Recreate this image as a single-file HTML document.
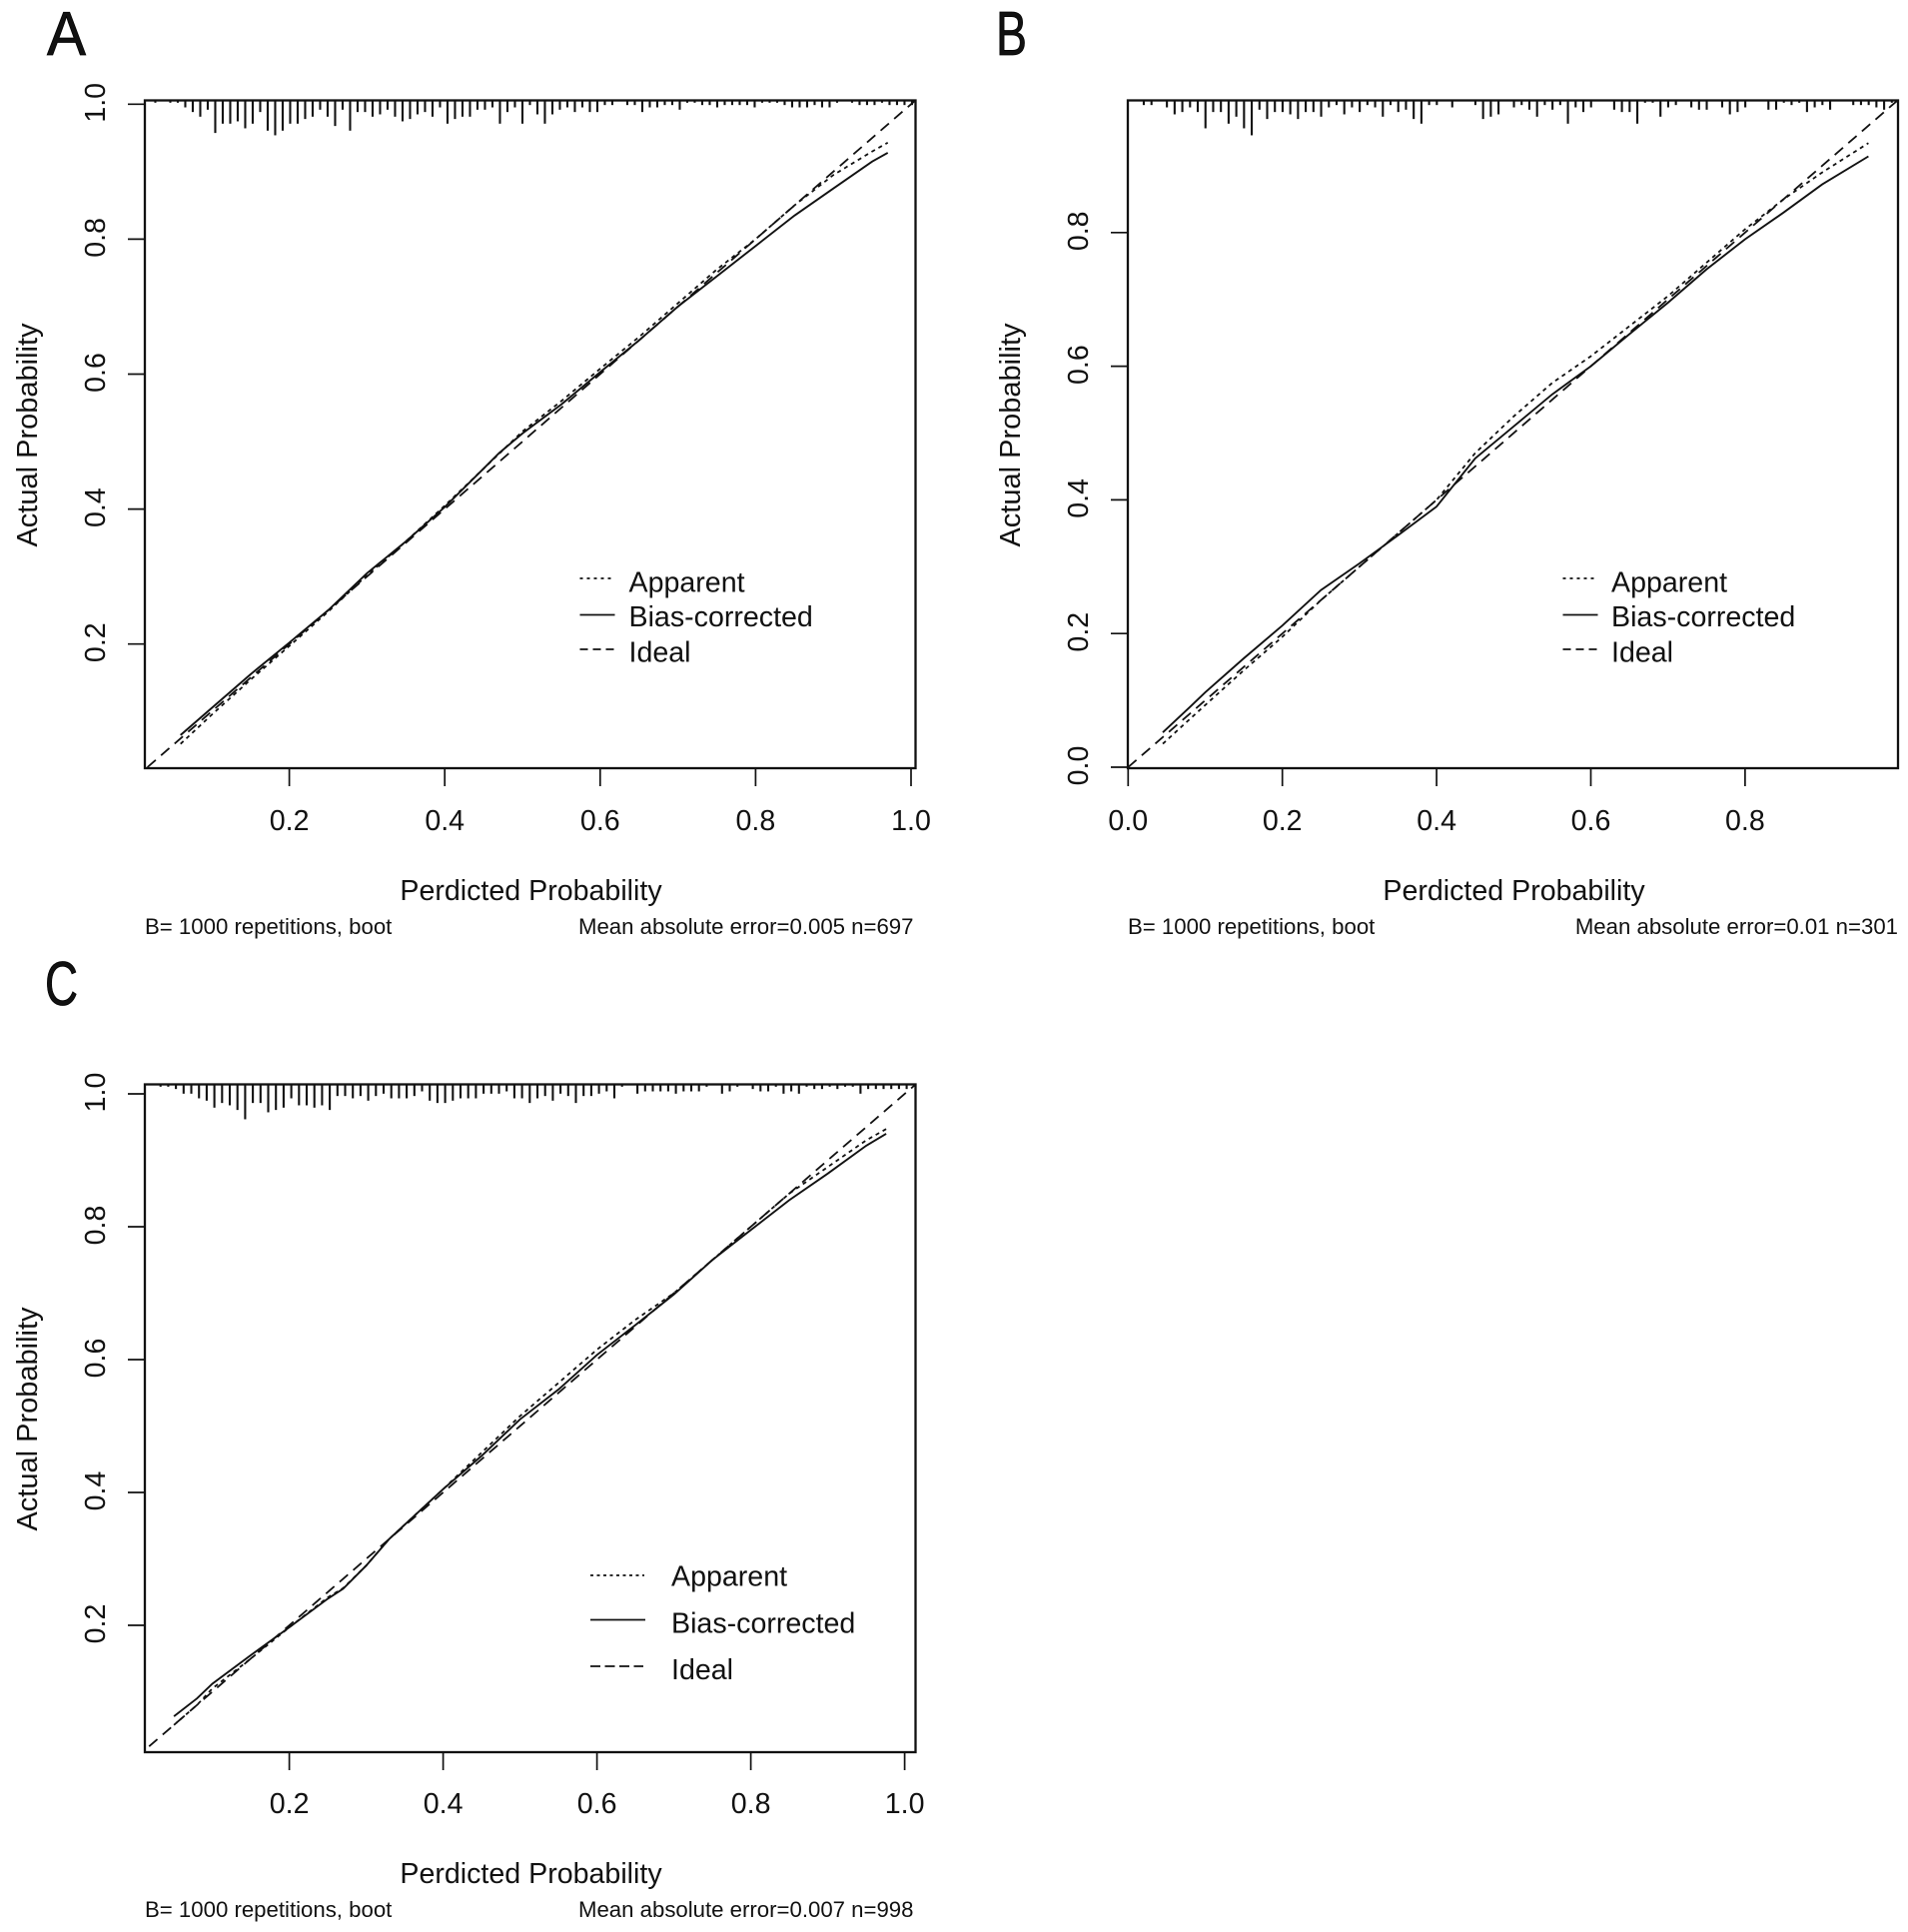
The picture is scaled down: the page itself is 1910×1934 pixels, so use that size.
<!DOCTYPE html>
<html lang="en">
<head>
<meta charset="utf-8">
<title>Calibration curves A, B and C</title>
<style>
html,body{margin:0;padding:0;background:#fff;}
svg{display:block;}
text{font-family:"Liberation Sans",sans-serif;fill:#111;}
.t28{font-size:28.6px;}
.ty{font-size:29px;}
.t22{font-size:22.2px;}
.letter{font-size:62px;stroke:#000;stroke-width:0.8px;}
.lg{stroke:#111;stroke-width:1.8;fill:none;}
</style>
</head>
<body>
<svg id="root" xmlns="http://www.w3.org/2000/svg" width="1910" height="1934" viewBox="0 0 1910 1934">
  <rect x="0" y="0" width="1910" height="1934" fill="#fff"/>

  <text class="letter" x="47" y="55" textLength="39" lengthAdjust="spacingAndGlyphs">A</text>
  <text class="letter" x="997" y="55" textLength="31" lengthAdjust="spacingAndGlyphs">B</text>
  <text class="letter" x="45" y="1006" textLength="33" lengthAdjust="spacingAndGlyphs">C</text>

  <g id="panel-a">
    <text class="t28" x="531.5" y="901" text-anchor="middle">Perdicted Probability</text>
    <text class="ty" transform="translate(37,435.5) rotate(-90)" text-anchor="middle">Actual Probability</text>
    <text class="t22" x="145" y="935">B= 1000 repetitions, boot</text>
    <text class="t22" x="914.5" y="935" text-anchor="end">Mean absolute error=0.005 n=697</text>
    <g>
      <line class="lg" x1="580.5" x2="613.5" y1="579" y2="579" stroke-dasharray="3 4"/>
      <line class="lg" x1="580.5" x2="615.5" y1="615.5" y2="615.5"/>
      <line class="lg" x1="580.5" x2="615.5" y1="650" y2="650" stroke-dasharray="8 5"/>
      <text class="t28" x="629.5" y="592.5">Apparent</text>
      <text class="t28" x="629.5" y="627">Bias-corrected</text>
      <text class="t28" x="629.5" y="662.5">Ideal</text>
    </g>
  </g>

  <g id="panel-b">
    <text class="t28" x="1515.5" y="901" text-anchor="middle">Perdicted Probability</text>
    <text class="ty" transform="translate(1021,435.5) rotate(-90)" text-anchor="middle">Actual Probability</text>
    <text class="t22" x="1129" y="935">B= 1000 repetitions, boot</text>
    <text class="t22" x="1900" y="935" text-anchor="end">Mean absolute error=0.01 n=301</text>
    <g>
      <line class="lg" x1="1564.5" x2="1597.5" y1="579" y2="579" stroke-dasharray="3 4"/>
      <line class="lg" x1="1564.5" x2="1599.5" y1="615.5" y2="615.5"/>
      <line class="lg" x1="1564.5" x2="1599.5" y1="650" y2="650" stroke-dasharray="8 5"/>
      <text class="t28" x="1613" y="592.5">Apparent</text>
      <text class="t28" x="1613" y="627">Bias-corrected</text>
      <text class="t28" x="1613" y="662.5">Ideal</text>
    </g>
  </g>

  <g id="panel-c">
    <text class="t28" x="531.5" y="1885" text-anchor="middle">Perdicted Probability</text>
    <text class="ty" transform="translate(37,1420.5) rotate(-90)" text-anchor="middle">Actual Probability</text>
    <text class="t22" x="145" y="1919">B= 1000 repetitions, boot</text>
    <text class="t22" x="914.5" y="1919" text-anchor="end">Mean absolute error=0.007 n=998</text>
    <g>
      <line class="lg" x1="591" x2="645" y1="1577" y2="1577" stroke-dasharray="3 3.5"/>
      <line class="lg" x1="591" x2="646" y1="1621.5" y2="1621.5"/>
      <line class="lg" x1="591" x2="644" y1="1668" y2="1668" stroke-dasharray="10 4.5"/>
      <text class="t28" x="672" y="1587.5">Apparent</text>
      <text class="t28" x="672" y="1634.5">Bias-corrected</text>
      <text class="t28" x="672" y="1681">Ideal</text>
    </g>
  </g>
</svg>
<script>
// Panel A values
const predictedA = [0.06,0.1,0.15,0.2,0.25,0.3,0.35,0.4,0.45,0.47,0.5,0.55,0.6,0.65,0.7,0.75,0.8,0.85,0.9,0.95,0.97];
const biasA      = [0.065,0.105,0.155,0.202,0.25,0.305,0.352,0.403,0.46,0.483,0.512,0.555,0.603,0.65,0.70,0.745,0.79,0.835,0.875,0.915,0.928];
const apparentA  = [0.052,0.095,0.147,0.197,0.248,0.302,0.352,0.405,0.46,0.482,0.515,0.56,0.608,0.655,0.705,0.755,0.80,0.85,0.895,0.93,0.943];
const rugCountsA = [1,0,1,1,3,5,7,4,14,10,10,9,12,10,5,13,15,13,10,10,8,7,4,7,11,4,13,5,5,7,6,4,7,9,8,6,5,7,3,10,8,7,7,4,4,3,10,5,3,10,2,6,10,6,4,3,5,3,5,5,2,2,0,2,2,5,3,3,2,2,4,1,1,2,2,3,2,2,2,2,3,1,1,1,2,3,3,3,2,3,3,1,0,1,2,2,2,1,2,2,2,2];
const xTicksA = ["0.2","0.4","0.6","0.8","1.0"];
const yTicksA = ["0.2","0.4","0.6","0.8","1.0"];

// Panel B values
const predictedB = [0.045,0.08,0.1,0.15,0.2,0.25,0.3,0.35,0.4,0.45,0.5,0.55,0.6,0.65,0.7,0.75,0.8,0.85,0.9,0.96];
const biasB      = [0.052,0.09,0.112,0.163,0.212,0.265,0.305,0.347,0.39,0.462,0.51,0.558,0.60,0.648,0.695,0.745,0.79,0.83,0.872,0.914];
const apparentB  = [0.035,0.072,0.093,0.145,0.195,0.25,0.30,0.35,0.40,0.47,0.525,0.575,0.615,0.66,0.705,0.755,0.805,0.85,0.89,0.934];
const rugCountsB = [2,2,0,3,6,5,3,5,12,5,5,10,7,12,15,4,8,5,5,6,8,5,5,7,3,2,6,3,5,2,3,7,2,5,4,8,10,2,2,0,3,0,0,2,8,7,6,0,3,2,4,7,2,4,2,10,3,5,3,0,0,4,5,5,10,1,1,7,3,2,0,3,4,4,0,3,6,5,3,0,0,4,4,1,2,1,5,3,2,4,0,0,2,2,2,3,4,1];
const xTicksB = ["0.0","0.2","0.4","0.6","0.8"];
const yTicksB = ["0.0","0.2","0.4","0.6","0.8"];

// Panel C values
const predictedC = [0.05,0.08,0.1,0.15,0.2,0.25,0.27,0.3,0.33,0.4,0.45,0.5,0.55,0.6,0.65,0.7,0.75,0.8,0.85,0.9,0.95,0.976];
const biasC      = [0.063,0.09,0.112,0.155,0.197,0.24,0.255,0.29,0.33,0.405,0.455,0.51,0.555,0.607,0.652,0.698,0.75,0.795,0.84,0.88,0.922,0.94];
const apparentC  = [0.05,0.08,0.105,0.15,0.197,0.242,0.256,0.29,0.33,0.405,0.46,0.515,0.565,0.615,0.66,0.70,0.75,0.80,0.85,0.89,0.93,0.947];
const rugCountsC = [1,1,2,4,4,6,7,10,8,9,11,15,8,8,12,11,10,6,9,9,10,9,11,5,5,6,5,7,5,4,6,6,6,5,3,7,8,8,7,6,6,6,4,4,4,3,6,6,8,6,5,7,4,5,8,5,5,4,3,6,1,0,4,3,3,3,3,4,3,3,3,1,0,4,3,1,0,2,3,3,1,4,3,4,1,2,2,1,2,1,1,4,2,2,2,2,2,2,1];
const xTicksC = ["0.2","0.4","0.6","0.8","1.0"];
const yTicksC = ["0.2","0.4","0.6","0.8","1.0"];

const NS = "http://www.w3.org/2000/svg";

function make(tag, attrs, parent) {
  const node = document.createElementNS(NS, tag);
  for (const k in attrs) node.setAttribute(k, attrs[k]);
  parent.appendChild(node);
  return node;
}

function drawPanel(cfg) {
  const g = document.getElementById(cfg.id);
  const xs = p => cfg.x0 + p * cfg.xUnit;
  const ys = v => cfg.y0 - v * cfg.yUnit;
  const clipId = cfg.id + "-clip";

  const defs = make("defs", {}, g);
  const clip = make("clipPath", {id: clipId}, defs);
  make("rect", {x: cfg.left, y: cfg.top, width: cfg.right - cfg.left, height: cfg.bottom - cfg.top}, clip);

  // Rug spikes along the top edge
  const rugGroup = make("g", {}, g);
  
  
  cfg.rug.forEach((count, i) => {
    if (!count) return;
    const px = xs(cfg.rugStart + i * cfg.rugStep);
    const spike = make("line", {x1: px, x2: px, y1: cfg.top, y2: cfg.top + count * 2.33, stroke: "#111", "stroke-width": 2.1}, rugGroup);
    
    
  });

  // Ideal reference line
  const ideal = make("line", {x1: xs(0), y1: ys(0), x2: xs(1.1), y2: ys(1.1), stroke: "#111", "stroke-width": 1.8, "stroke-dasharray": "11 7", "clip-path": "url(#" + clipId + ")"}, g);
  
  

  // Apparent curve
  const apparentPoints = cfg.predicted.map((p, i) => xs(p).toFixed(1) + "," + ys(cfg.apparent[i]).toFixed(1)).join(" ");
  const apparent = make("polyline", {points: apparentPoints, fill: "none", stroke: "#111", "stroke-width": 1.8, "stroke-dasharray": "4 4"}, g);
  
  

  // Bias-corrected curve
  const biasPoints = cfg.predicted.map((p, i) => xs(p).toFixed(1) + "," + ys(cfg.bias[i]).toFixed(1)).join(" ");
  const bias = make("polyline", {points: biasPoints, fill: "none", stroke: "#111", "stroke-width": 1.9}, g);
  
  

  // Plot frame
  const frame = make("rect", {x: cfg.left, y: cfg.top, width: cfg.right - cfg.left, height: cfg.bottom - cfg.top, fill: "none", stroke: "#111", "stroke-width": 2.3}, g);
  
  

  // X axis ticks and labels
  cfg.xTicks.forEach(label => {
    const px = xs(parseFloat(label));
    const tick = make("line", {x1: px, x2: px, y1: cfg.bottom, y2: cfg.bottom + 18, stroke: "#111", "stroke-width": 1.7}, g);
    
    
    const text = make("text", {class: "t28", x: px, y: cfg.xLabelY, "text-anchor": "middle"}, g);
    
    
    text.textContent = label;
  });

  // Y axis ticks and labels
  cfg.yTicks.forEach(label => {
    const py = ys(parseFloat(label));
    const tick = make("line", {x1: cfg.left - 17, x2: cfg.left, y1: py, y2: py, stroke: "#111", "stroke-width": 1.7}, g);
    
    
    const text = make("text", {class: "t28", transform: "translate(" + (cfg.left - 40) + "," + (py - 1.5) + ") rotate(-90)", "text-anchor": "middle"}, g);
    
    
    text.textContent = label;
  });
}

drawPanel({
  id: "panel-a", left: 145, right: 916.5, top: 100.5, bottom: 769,
  x0: 134, xUnit: 778, y0: 779.8, yUnit: 675.5,
  xLabelY: 831, rugStart: 0.0276, rugStep: 0.00964,
  predicted: predictedA, bias: biasA, apparent: apparentA, rug: rugCountsA,
  xTicks: xTicksA, yTicks: yTicksA
});
drawPanel({
  id: "panel-b", left: 1129, right: 1900, top: 100.5, bottom: 769,
  x0: 1129.3, xUnit: 772, y0: 768, yUnit: 669,
  xLabelY: 831, rugStart: 0.0203, rugStep: 0.01,
  predicted: predictedB, bias: biasB, apparent: apparentB, rug: rugCountsB,
  xTicks: xTicksB, yTicks: yTicksB
});
drawPanel({
  id: "panel-c", left: 145, right: 916.5, top: 1085.5, bottom: 1754,
  x0: 135.6, xUnit: 770, y0: 1760, yUnit: 665,
  xLabelY: 1815, rugStart: 0.0326, rugStep: 0.01,
  predicted: predictedC, bias: biasC, apparent: apparentC, rug: rugCountsC,
  xTicks: xTicksC, yTicks: yTicksC
});
</script>
</body>
</html>
